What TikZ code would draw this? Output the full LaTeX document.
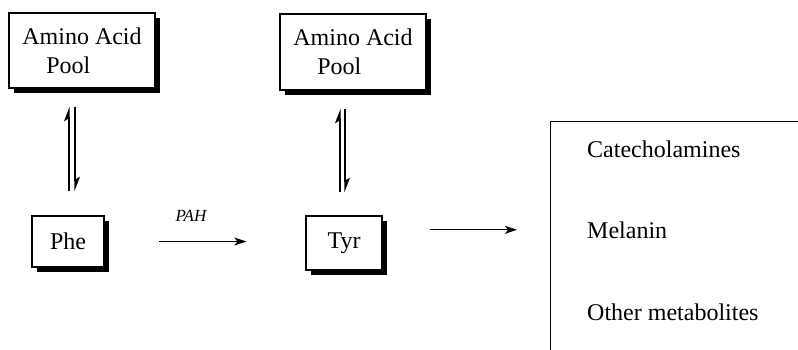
\documentclass[tikz,border=0pt]{standalone}
\usepackage{fontspec}
\setmainfont{Liberation Serif}
\usetikzlibrary{arrows.meta, positioning, shadows}

\begin{document}
\begin{tikzpicture}[x=1pt, y=-1pt,
  box/.style={draw=black, line width=1.2pt, fill=white, align=left, inner sep=0pt, font=\fontsize{24}{29}\selectfont,
    drop shadow={fill=black, opacity=1, shadow xshift=5pt, shadow yshift=-5pt}},
  arrow/.style={-{Stealth[length=12pt, width=8pt, inset=3pt]}, line width=1.3pt},
  half/.style={-{Stealth[harpoon, length=13pt, width=10pt, inset=3pt]}, line width=1.3pt},
  item/.style={anchor=base west, inner sep=0pt, font=\fontsize{24}{29}\selectfont},
  pah/.style={font=\fontsize{17}{20}\selectfont\itshape, inner sep=0pt, anchor=base}
]
\useasboundingbox (0,0) rectangle (798,349);

\node[box, minimum width=146pt, minimum height=75pt] (pool1) at (82,50.5) {Amino Acid\\\hspace*{1em}Pool};
\node[box, minimum width=146pt, minimum height=76pt] (pool2) at (353,52) {Amino Acid\\\hspace*{1em}Pool};
\node[box, minimum width=72pt, minimum height=51pt] (phe) at (68,241.5) {Phe};
\node[box, minimum width=76pt, minimum height=54pt] (tyr) at (344,243) {Tyr};
\node[draw=black, line width=1.2pt, minimum width=300pt, minimum height=260pt, anchor=north west] (products) at (550,121) {};
\node[item] (cat) at (587,157) {Catecholamines};
\node[item] (mel) at (587,238) {Melanin};
\node[item] (other) at (587,320) {Other metabolites};

% equilibria with the pools
\draw[half, shorten <=24pt, shorten >=18pt] ([xshift=1pt]phe.north) -- ([xshift=1pt]phe.north |- pool1.south);
\draw[half, shorten <=18pt, shorten >=24pt] ([xshift=7pt]phe.north |- pool1.south) -- ([xshift=7pt]phe.north);
\draw[half, shorten <=23pt, shorten >=18pt] ([xshift=-4pt]tyr.north) -- ([xshift=-4pt]tyr.north |- pool2.south);
\draw[half, shorten <=18pt, shorten >=23pt] ([xshift=1pt]tyr.north |- pool2.south) -- ([xshift=1pt]tyr.north);

\draw[arrow, shorten <=54pt, shorten >=59pt] (phe.east) -- node[pah, pos=0.43, yshift=20.5pt]{PAH} (phe.east -| tyr.west);
\draw[arrow, shorten <=47pt, shorten >=33pt] (tyr.east |- mel.west) -- (products.west |- mel.west);
\end{tikzpicture}
\end{document}
